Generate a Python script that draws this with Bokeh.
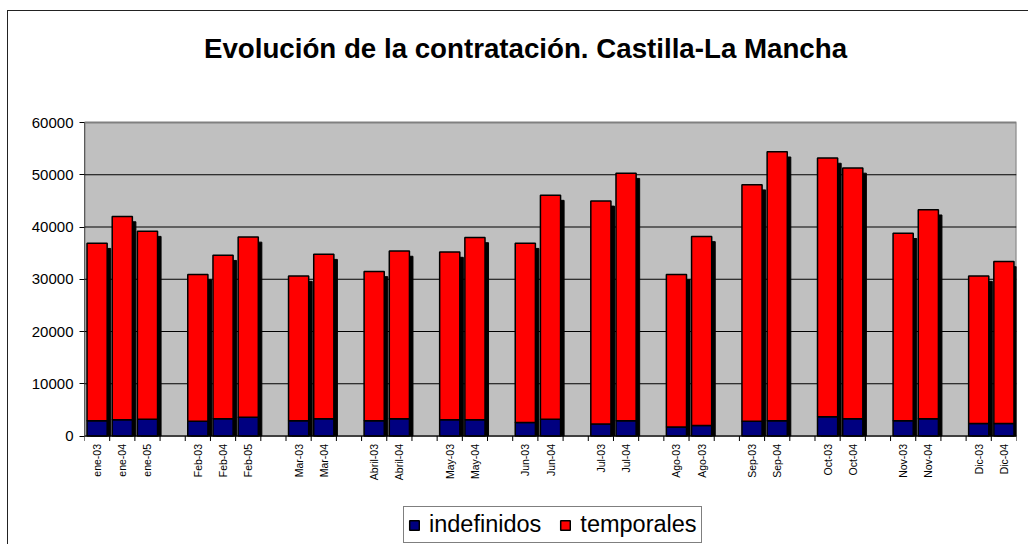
import math
from bokeh.plotting import figure
from bokeh.models import (Range1d, FixedTicker, Legend, LegendItem, ColumnDataSource,
                          NumeralTickFormatter)
from bokeh.core.properties import value
from bokeh.embed import file_html
from bokeh.resources import INLINE

# ---- data -------------------------------------------------------------
categories = ["ene-03", "ene-04", "ene-05", "",
              "Feb-03", "Feb-04", "Feb-05", "",
              "Mar-03", "Mar-04", "",
              "Abril-03", "Abril-04", "",
              "May-03", "May-04", "",
              "Jun-03", "Jun-04", "",
              "Jul-03", "Jul-04", "",
              "Ago-03", "Ago-03", "",
              "Sep-03", "Sep-04", "",
              "Oct-03", "Oct-04", "",
              "Nov-03", "Nov-04", "",
              "Dic-03", "Dic-04"]

indefinidos = [2900, 3100, 3200, 2800, 3300, 3600, 2900, 3300, 2900, 3300,
               3100, 3100, 2600, 3200, 2300, 2900, 1700, 2000, 2800, 2900,
               3700, 3300, 2900, 3300, 2400, 2400]
temporales = [34000, 38900, 36000, 28100, 31300, 34500, 27700, 31500, 28600, 32100,
              32100, 34900, 34300, 42900, 42700, 47400, 29200, 36200, 45300, 51500,
              49500, 48000, 35900, 40000, 28200, 31000]

y_ticks = [0, 10000, 20000, 30000, 40000, 50000, 60000]

TITLE = "Evolución de la contratación. Castilla-La Mancha"
FONT = "Liberation Sans"

# ---- layout (pixels) --------------------------------------------------
W, H = 1021, 534            # canvas size (page offset 8, 11 by the frame border)
PLOT_LEFT = 76              # plot-area left inside canvas
PLOT_RIGHT_PAD = 13
PX_TOP = 111                # plot-area top below canvas top
PX_PLOT = 313.5             # plot-area height
PX_BELOW = H - PX_TOP - PX_PLOT
TITLE_PX_Y = 37             # title centre below canvas top
TITLE_PX_X = 441            # title centre right of plot-area left
PLOT_W = W - PLOT_LEFT - PLOT_RIGHT_PAD

YMAX = y_ticks[-1]
k = YMAX / PX_PLOT
NCAT = len(categories)

# ---- derived ----------------------------------------------------------
xs = [i + 0.5 for i, c in enumerate(categories) if c]
labels = [c for c in categories if c]
totals = [a + b for a, b in zip(indefinidos, temporales)]
bounds = list(range(NCAT + 1))

SHADOW_DX = 0.14
SHADOW_DY = 1000
src = ColumnDataSource(dict(
    x=xs, label=labels, ind=indefinidos, tem=temporales, total=totals,
    sx=[x + SHADOW_DX for x in xs],
    stop=[t - SHADOW_DY for t in totals],
))

p = figure(width=W, height=H, output_backend="svg", toolbar_location=None,
           x_range=Range1d(0, NCAT),
           y_range=Range1d(-PX_BELOW * k, YMAX + PX_TOP * k),
           min_border_left=PLOT_LEFT, min_border_right=PLOT_RIGHT_PAD,
           min_border_top=0, min_border_bottom=0)
p.styles = {"border-left": "1px solid #222", "border-top": "1px solid #222",
            "margin-left": "7px", "margin-top": "10px"}

p.background_fill_color = "white"
p.border_fill_color = "white"
p.outline_line_color = None
p.xgrid.visible = False
p.ygrid.visible = False
p.xaxis.visible = False

# plot area
p.quad(left=0, right=NCAT, bottom=y_ticks[0], top=YMAX,
       fill_color="#C0C0C0", line_color="#808080", line_width=2)
p.segment(x0=0, x1=NCAT, y0=y_ticks[1:-1], y1=y_ticks[1:-1],
          line_color="black", line_width=1)

# shadow, then stacked bars
p.vbar(x="sx", bottom=0, top="stop", width=0.8, source=src,
       fill_color="black", line_color="black")
r_ind = p.vbar(x="x", bottom=0, top="ind", width=0.8, source=src,
               fill_color="#000080", line_color="black", line_width=1.5)
r_tem = p.vbar(x="x", bottom="ind", top="total", width=0.8, source=src,
               fill_color="#FF0000", line_color="black", line_width=1.5)

# axis lines
p.segment(x0=[0, 0], x1=[NCAT, 0], y0=[0, 0], y1=[0, YMAX],
          line_color="black", line_width=1)
# x tick marks at slot boundaries
p.ray(x=bounds, y=0, length=5, length_units="screen", angle=-math.pi / 2,
      line_color="black", line_width=1)
# x category labels
p.text(x="x", y=0, text="label", source=src, angle=math.pi / 2,
       text_align="right", text_baseline="middle", y_offset=8,
       text_font=value(FONT), text_font_size="10.5px", text_color="black")

# title
p.text(x=[TITLE_PX_X * NCAT / PLOT_W], y=[YMAX + (PX_TOP - TITLE_PX_Y) * k],
       text=[TITLE], text_align="center", text_baseline="middle",
       text_font=value(FONT), text_font_size="27.7px", text_font_style="bold",
       text_color="black")

# y axis
ya = p.yaxis[0]
ya.ticker = FixedTicker(ticks=y_ticks, minor_ticks=[])
ya.formatter = NumeralTickFormatter(format="0")
ya.major_label_text_font = FONT
ya.major_label_text_font_size = "15px"
ya.major_label_text_color = "black"
ya.major_tick_out = 5
ya.major_tick_in = 0
ya.major_label_standoff = 6
ya.axis_line_color = None
ya.major_tick_line_color = "black"
ya.minor_tick_line_color = None

legend = Legend(items=[LegendItem(label="indefinidos", renderers=[r_ind]),
                       LegendItem(label="temporales", renderers=[r_tem])],
                orientation="horizontal", location=(319, 2))
legend.label_text_font = FONT
legend.label_text_font_size = "23.5px"
legend.label_text_color = "black"
legend.glyph_width = 12
legend.glyph_height = 12
legend.label_standoff = 9
legend.spacing = 18
legend.padding = 4
legend.margin = 0
legend.border_line_color = "black"
legend.border_line_width = 1
legend.background_fill_color = "white"
legend.background_fill_alpha = 1
p.add_layout(legend, "center")

open("out.html", "w").write(file_html(p, INLINE))
